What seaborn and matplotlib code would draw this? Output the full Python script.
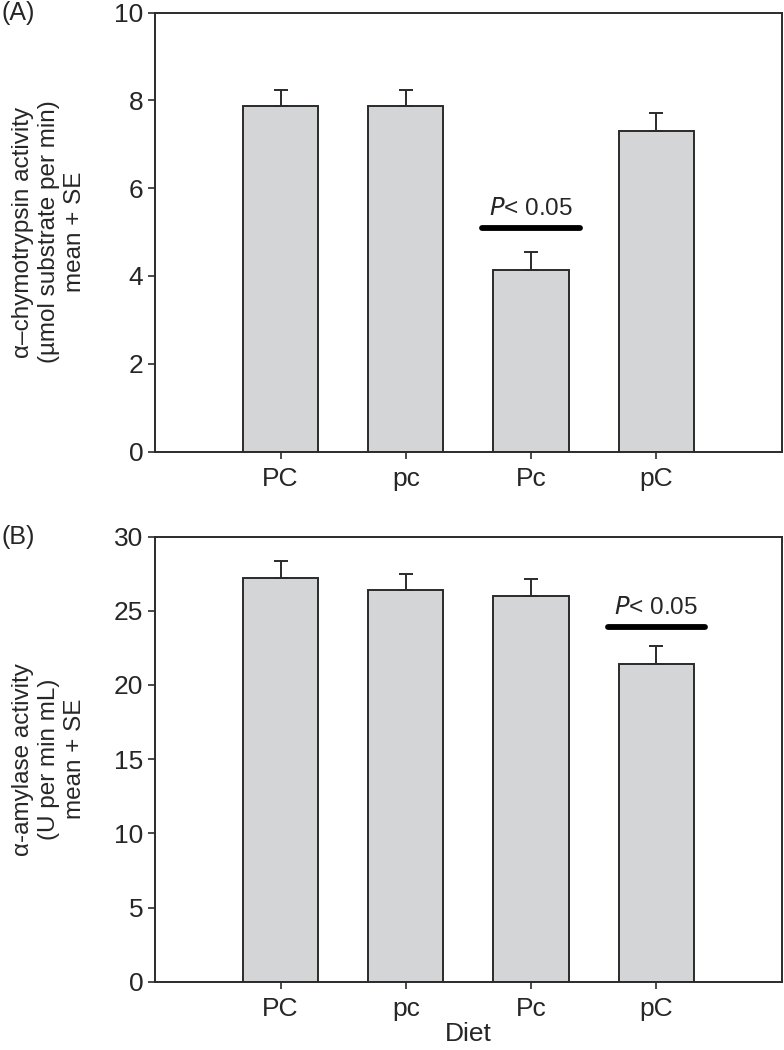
"""
Digestive enzyme activity by diet, two stacked bar panels with SE bars.
"""
import matplotlib
matplotlib.use("Agg")
import matplotlib.pyplot as plt
import numpy as np
import pandas as pd
import seaborn as sns

# ---------------------------------------------------------------------------
# Data
# ---------------------------------------------------------------------------
diets = ["PC", "pc", "Pc", "pC"]

chymo_mean = [7.88, 7.88, 4.13, 7.30]
chymo_se = [0.35, 0.35, 0.42, 0.42]
chymo_sig_diet = "Pc"
chymo_sig_y = 5.1

amyl_mean = [27.2, 26.4, 26.0, 21.4]
amyl_se = [1.15, 1.1, 1.15, 1.25]
amyl_sig_diet = "pC"
amyl_sig_y = 23.9

BAR_COLOR = "#d4d5d7"
EDGE = "#2b2b2b"

sns.set_theme(style="ticks")
plt.rcParams["font.family"] = ["Liberation Sans", "DejaVu Sans"]


def draw_panel(ax, mean, se, ylim, yticks, ylabel, sig_diet, sig_y, tag):
    df = pd.DataFrame({"diet": diets, "value": mean})
    sns.barplot(data=df, x="diet", y="value", order=diets, color=BAR_COLOR,
                edgecolor=EDGE, linewidth=1.4, width=0.6, saturation=1,
                errorbar=None, ax=ax)
    xpos = np.arange(len(diets))
    ax.errorbar(xpos, mean, yerr=[np.zeros(len(se)), se], fmt="none",
                ecolor=EDGE, elinewidth=1.4, capsize=5, capthick=1.4)

    # significance marker
    i = diets.index(sig_diet)
    ax.plot([i - 0.39, i + 0.39], [sig_y, sig_y], color="black", lw=4.2,
            solid_capstyle="round")
    ax.text(i, sig_y + (ylim[1] - ylim[0]) * 0.018, r"$\it{P}$< 0.05",
            ha="center", va="bottom", fontsize=17.5)

    ax.set_xlim(-1, 4)
    ax.set_ylim(*ylim)
    ax.set_yticks(yticks)
    ax.set_xlabel("")
    ax.set_ylabel(ylabel, fontsize=17.5, labelpad=20, linespacing=1.25)
    ax.tick_params(axis="both", labelsize=19, length=5, width=1.2,
                   color=EDGE, direction="out")
    ax.tick_params(axis="x", pad=6)
    for s in ax.spines.values():
        s.set_visible(True)
        s.set_linewidth(1.4)
        s.set_color(EDGE)
    ax.text(-0.245, 1.0, tag, transform=ax.transAxes, fontsize=18,
            ha="left", va="center")


fig = plt.figure(figsize=(7.84, 10.5), dpi=100)
ax_a = fig.add_axes([0.198, 0.570, 0.799, 0.418])
ax_b = fig.add_axes([0.198, 0.065, 0.799, 0.424])

draw_panel(ax_a, chymo_mean, chymo_se, (0, 10), [0, 2, 4, 6, 8, 10],
           "\u03b1\u2013chymotrypsin activity\n(\u00b5mol substrate per min)\nmean + SE",
           chymo_sig_diet, chymo_sig_y, "(A)")
draw_panel(ax_b, amyl_mean, amyl_se, (0, 30), [0, 5, 10, 15, 20, 25, 30],
           "\u03b1-amylase activity\n(U per min mL)\nmean + SE",
           amyl_sig_diet, amyl_sig_y, "(B)")
ax_b.set_xlabel("Diet", fontsize=19, labelpad=1)

fig.savefig("out.png", dpi=100)
